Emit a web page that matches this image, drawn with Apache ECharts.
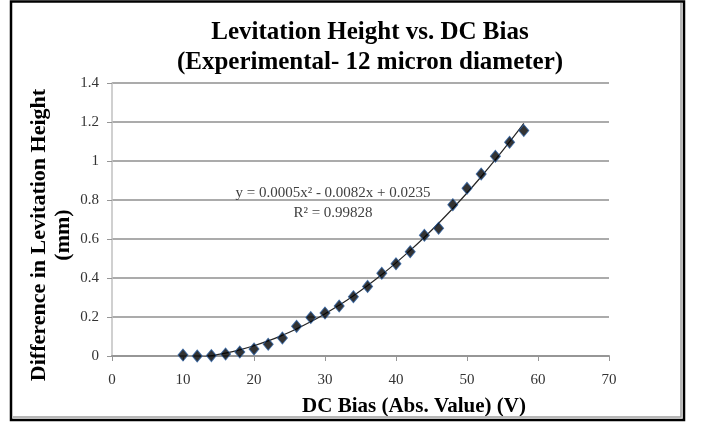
<!DOCTYPE html>
<html>
<head>
<meta charset="utf-8">
<script src="https://cdn.jsdelivr.net/npm/echarts@6/dist/echarts.min.js"></script>
<style>
html,body{margin:0;padding:0;background:#fff;}
#chart{width:705px;height:428px;}
</style>
</head>
<body>
<div id="chart"></div>
<script>
// DC bias (V)
const biasValues = [10, 12, 14, 16, 18, 20, 22, 24, 26, 28, 30, 32, 34, 36, 38, 40, 42, 44, 46, 48, 50, 52, 54, 56, 58];
// Difference in levitation height (mm)
const heightValues = [0.005, 0.0, 0.002, 0.01, 0.02, 0.036, 0.06, 0.092, 0.152, 0.197, 0.22, 0.256, 0.304, 0.357, 0.424, 0.473, 0.535, 0.619, 0.655, 0.776, 0.86, 0.933, 1.024, 1.096, 1.156];
const xTicks = [0, 10, 20, 30, 40, 50, 60, 70];
const yTicks = [0, 0.2, 0.4, 0.6, 0.8, 1, 1.2, 1.4];
const titleLines = ['Levitation Height vs. DC Bias', '(Experimental- 12 micron diameter)'];
const xAxisTitle = 'DC Bias (Abs. Value) (V)';
const yAxisTitleLines = ['Difference in Levitation Height', '(mm)'];
const equationLines = ['y = 0.0005x² - 0.0082x + 0.0235', 'R² = 0.99828'];

// Least-squares quadratic trendline fitted to the data (as a spreadsheet trendline would)
function quadFit(xs, ys) {
  let s = [0,0,0,0,0], t = [0,0,0];
  for (let i = 0; i < xs.length; i++) {
    let p = 1;
    for (let k = 0; k < 5; k++) { s[k] += p; if (k < 3) t[k] += p * ys[i]; p *= xs[i]; }
  }
  const M = [[s[0], s[1], s[2], t[0]], [s[1], s[2], s[3], t[1]], [s[2], s[3], s[4], t[2]]];
  for (let c = 0; c < 3; c++) {
    for (let r = c + 1; r < 3; r++) {
      const f = M[r][c] / M[c][c];
      for (let k = c; k < 4; k++) M[r][k] -= f * M[c][k];
    }
  }
  const b = [0,0,0];
  for (let r = 2; r >= 0; r--) {
    let v = M[r][3];
    for (let k = r + 1; k < 3; k++) v -= M[r][k] * b[k];
    b[r] = v / M[r][r];
  }
  return b;
}
const coef = quadFit(biasValues, heightValues);
const trendData = biasValues.map(x => [x, coef[0] + coef[1] * x + coef[2] * x * x]);

const serif = '"Liberation Serif", "DejaVu Serif", serif';
const chart = echarts.init(document.getElementById('chart'), null, {renderer: 'canvas'});
chart.setOption({
  animation: false,
  backgroundColor: '#ffffff',
  title: {
    text: titleLines.join('\n'),
    left: 365, top: 13, textAlign: 'center',
    textStyle: {fontFamily: serif, fontWeight: 'bold', fontSize: 25, lineHeight: 30, color: '#000'}
  },
  grid: {left: 112, right: 96, top: 83, bottom: 72, containLabel: false},
  xAxis: {
    type: 'value', min: xTicks[0], max: xTicks[xTicks.length - 1], interval: 10,
    axisLine: {show: true, lineStyle: {color: '#969696', width: 2}},
    axisTick: {show: true, length: 5, lineStyle: {color: '#969696', width: 1}},
    axisLabel: {margin: 17, fontFamily: serif, fontSize: 15, color: '#333333'},
    splitLine: {show: false}
  },
  yAxis: {
    type: 'value', min: yTicks[0], max: yTicks[yTicks.length - 1], interval: 0.2,
    axisLine: {show: true, lineStyle: {color: '#c0c0c0', width: 1.5}},
    axisTick: {show: true, length: 5, lineStyle: {color: '#969696', width: 1}},
    axisLabel: {margin: 13, fontFamily: serif, fontSize: 15, color: '#333333',
      formatter: v => String(Math.round(v * 10) / 10)},
    splitLine: {show: true, lineStyle: {color: '#8f8f8f', width: 1.5}}
  },
  series: [
    {
      type: 'line', data: trendData, showSymbol: false, smooth: true,
      lineStyle: {color: '#262626', width: 1.2}, z: 3, silent: true
    },
    {
      type: 'scatter', data: biasValues.map((x, i) => [x, heightValues[i]]),
      symbol: 'diamond', symbolSize: [10, 12],
      itemStyle: {color: '#000000', borderColor: '#2a5d9e', borderWidth: 1},
      z: 4
    }
  ],
  graphic: [
    {type: 'rect', shape: {x: 11, y: 1.5, width: 673, height: 418.5},
     style: {fill: null, stroke: '#000', lineWidth: 2.5}, z: 100},
    {type: 'polyline', shape: {points: [[13, 417], [681, 417], [681, 3]]},
     style: {fill: null, stroke: '#a0a0a0', lineWidth: 1.5}, z: 100},
    {type: 'text', x: 51, y: 235, rotation: Math.PI / 2,
     style: {text: yAxisTitleLines.join('\n'), align: 'center', verticalAlign: 'middle',
       font: 'bold 22px ' + serif, lineHeight: 24, fill: '#000'}},
    {type: 'text', x: 414, y: 407,
     style: {text: xAxisTitle, align: 'center', verticalAlign: 'middle',
       font: 'bold 21px ' + serif, fill: '#000'}},
    {type: 'text', x: 333, y: 203,
     style: {text: equationLines.join('\n'), align: 'center', verticalAlign: 'middle',
       font: '15px ' + serif, lineHeight: 20, fill: '#404040'}, z: 50}
  ]
});
</script>
</body>
</html>
